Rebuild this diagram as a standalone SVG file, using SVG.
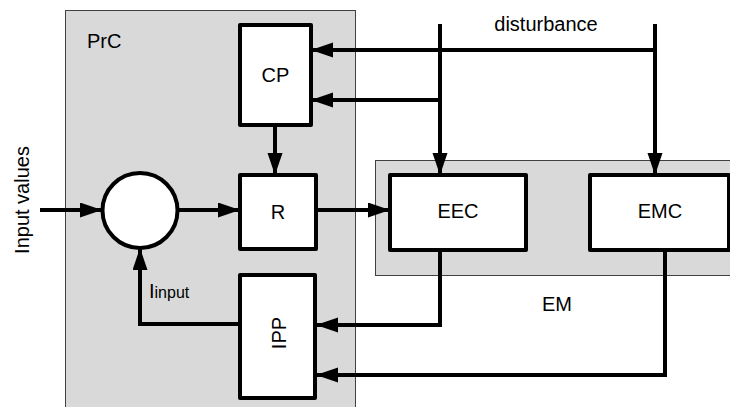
<svg xmlns="http://www.w3.org/2000/svg" width="730" height="407" viewBox="0 0 730 407">
<style>
.box{fill:#fff;stroke:#000;stroke-width:4;stroke-linejoin:round}
.area{fill:#d9d9d9;stroke:#404040;stroke-width:1}
.wire{fill:none;stroke:#000;stroke-width:4;stroke-linejoin:miter}
.lbl{font-family:"Liberation Sans",Arial,sans-serif;font-size:20px;fill:#000}
.c{text-anchor:middle}
</style>
<defs>
<marker id="ah" markerUnits="userSpaceOnUse" markerWidth="24" markerHeight="16" refX="22" refY="7.5" orient="auto" viewBox="0 0 24 16">
<path d="M0,0 L22,7.5 L0,15 z" fill="#000"/>
</marker>
</defs>
<rect width="730" height="407" fill="#fff"/>
<g id="PrC">
<rect class="area" x="65.5" y="10.5" width="290" height="410"/>
<text class="lbl" x="87" y="48">PrC</text>
</g>
<g id="EM">
<rect class="area" x="375.5" y="160.5" width="370" height="115"/>
<text class="lbl c" x="557" y="311">EM</text>
</g>
<g id="input-label">
<text class="lbl c" transform="translate(29,200) rotate(-90)">Input values</text>
</g>
<g id="disturbance-label">
<text class="lbl c" x="546" y="31">disturbance</text>
</g>
<g id="sum">
<circle class="box" cx="140" cy="210.5" r="37.5"/>
</g>
<g id="CP">
<rect class="box" x="240" y="25" width="71" height="100"/>
<text class="lbl c" x="275.5" y="82">CP</text>
</g>
<g id="R">
<rect class="box" x="240" y="175" width="76" height="74"/>
<text class="lbl c" x="278" y="219">R</text>
</g>
<g id="IPP">
<rect class="box" x="240" y="275" width="75" height="123"/>
<text class="lbl c" transform="translate(286,333) rotate(-90)">IPP</text>
</g>
<g id="EEC">
<rect class="box" x="390" y="175" width="136" height="75"/>
<text class="lbl c" x="458" y="218">EEC</text>
</g>
<g id="EMC">
<rect class="box" x="590" y="175" width="139" height="75"/>
<text class="lbl c" x="660" y="218">EMC</text>
</g>
<g id="Iinput-label">
<text class="lbl" x="149" y="298">I<tspan font-size="16">input</tspan></text>
</g>
<g id="connectors">
<path class="wire" d="M40,210 H102" marker-end="url(#ah)"/>
<path class="wire" d="M178,210 H240" marker-end="url(#ah)"/>
<path class="wire" d="M275,125 V175" marker-end="url(#ah)"/>
<path class="wire" d="M316,210 H390" marker-end="url(#ah)"/>
<path class="wire" d="M440,24 V175" marker-end="url(#ah)"/>
<path class="wire" d="M655,24 V175" marker-end="url(#ah)"/>
<path class="wire" d="M655,50 H311" marker-end="url(#ah)"/>
<path class="wire" d="M440,100 H311" marker-end="url(#ah)"/>
<path class="wire" d="M440,250 V325 H316" marker-end="url(#ah)"/>
<path class="wire" d="M665,250 V375 H316" marker-end="url(#ah)"/>
<path class="wire" d="M240,324 H140 V248" marker-end="url(#ah)"/>
</g>
</svg>
